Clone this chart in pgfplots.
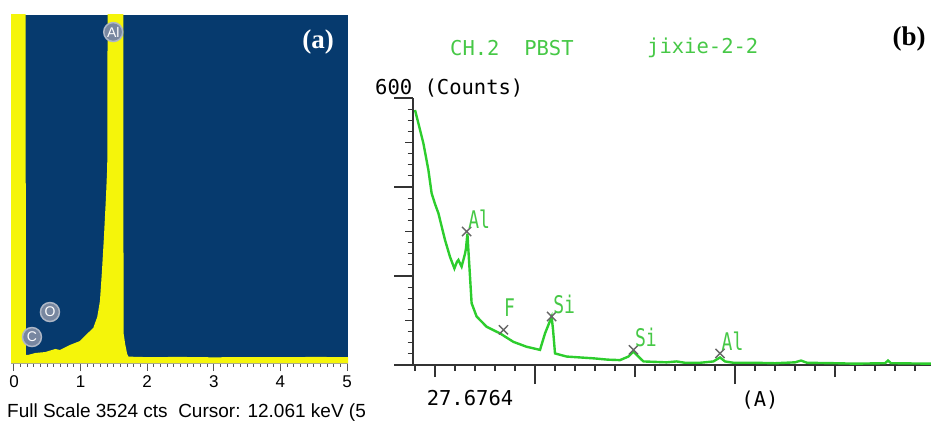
\documentclass[border=0pt]{standalone}
\usepackage{fontspec}
\setmainfont{Liberation Sans}
\newfontfamily\monofont{DejaVu Sans Mono}
\newfontfamily\seriffont{Liberation Serif}
\usepackage{pgfplots}
\pgfplotsset{compat=1.18}
\definecolor{edsblue}{RGB}{6,58,110}
\definecolor{edsyellow}{RGB}{245,245,10}
\definecolor{badge}{RGB}{120,135,160}
\definecolor{specgreen}{RGB}{45,205,45}
\definecolor{txtgreen}{RGB}{70,200,70}

\begin{document}
\begin{tikzpicture}[x=1bp,y=1bp]
\useasboundingbox (0,0) rectangle (931,428);

% ---------- (a) EDS spectrum ----------
\begin{axis}[
    at={(11bp,65bp)}, anchor=south west,
    scale only axis, width=337bp, height=348bp,
    xmin=-0.045, xmax=5.015, ymin=-30, ymax=3520,
    axis x line=bottom, axis y line=none,
    x axis line style={-, draw=gray!75, line width=2.5bp},
    axis background/.style={fill=edsblue},
    xtick={0,1,2,3,4,5}, minor x tick num=9,
    tick align=outside,
    major tick length=8bp, minor tick length=3.5bp,
    tick style={gray!70!black, line width=1bp},
    /pgf/number format/assume math mode=true,
    xticklabel style={font=\fontsize{17bp}{17bp}\selectfont, yshift=-1bp},
    clip=true,
]
\addplot[fill=edsyellow, draw=none] coordinates {
    (-0.045,-30) (-0.045,5000) (0.17,5000) (0.18,52) (0.21,52) (0.32,72)
    (0.47,82) (0.62,113) (0.69,103) (0.84,154) (0.99,194) (1.11,276)
    (1.19,327) (1.25,440) (1.29,600) (1.32,900) (1.35,1250) (1.38,1650)
    (1.40,1970) (1.41,5000) (1.64,5000) (1.645,276) (1.67,160) (1.70,60)
    (1.72,35) (2.0,30) (2.5,32) (3.0,28) (3.5,31) (4.0,29) (4.5,32)
    (5.015,30) (5.015,-30)
};
\addplot[only marks, mark=*, mark size=9.5bp,
    mark options={fill=badge, draw=badge!60!white, line width=1.5bp},
    nodes near coords, point meta=explicit symbolic,
    every node near coord/.append style={anchor=center, text=white,
        font=\fontsize{14bp}{14bp}\selectfont, inner sep=0pt}]
    coordinates {(1.49,3346) [Al] (0.54,490) [O] (0.27,235) [C]};
\end{axis}
\node[text=white, font=\seriffont\bfseries\fontsize{27bp}{27bp}\selectfont]
    at (318,386) {(a)};
\node[anchor=west, font=\fontsize{19bp}{19bp}\selectfont, inner sep=0pt]
    at (7,15) {Full Scale 3524 cts\ \ Cursor: 12.061 keV (5};

% ---------- (b) WDS spectrum ----------
\begin{axis}[
    at={(413bp,63bp)}, anchor=south west,
    scale only axis, width=518bp, height=267bp,
    xmin=-0.1, xmax=25.8, ymin=0, ymax=600,
    axis lines*=left,
    axis line style={-, draw=black!80, line width=1.8bp},
    tick align=outside,
    xtick={6,16}, minor xtick={0,1,...,25},
    extra x ticks={1,11,21}, extra x tick labels={},
    ytick={0,200,400,600}, minor ytick={0,25,...,600},
    extra y ticks={100,300,500}, extra y tick labels={},
    xticklabels={}, yticklabels={},
    major tick length=19bp, minor tick length=5.5bp,
    extra x tick style={major tick length=12bp},
    extra y tick style={major tick length=8bp},
    tick style={black!80, line width=1.2bp},
    clip=false,
]
\addplot[specgreen, line width=2.4bp] coordinates {
    (0,573) (0.17,543) (0.42,498) (0.67,438) (0.83,386) (1.0,362) (1.17,341)
    (1.5,281) (1.75,243) (1.97,217) (2.1,232) (2.17,236) (2.33,221) (2.5,250)
    (2.55,262) (2.62,295) (2.68,250) (2.72,221) (2.83,139) (3.08,109)
    (3.58,86) (4.25,71) (4.92,52) (5.58,41) (6.25,34) (6.5,71) (6.83,108)
    (6.9,80) (7.0,26) (7.58,19) (8.92,15) (9.65,12) (10.25,11) (10.67,19)
    (10.92,30) (11.17,19) (11.42,8) (12.58,6) (13.08,8) (13.5,5) (14.25,5)
    (14.92,8) (15.25,17) (15.5,8) (15.92,5) (17,5) (18,4) (19,6) (19.3,10)
    (19.6,5) (21,4) (22,3) (23.5,4) (23.65,10) (23.8,4) (25.8,3)
};
\addplot[only marks, mark=x, mark size=6.5bp,
    mark options={black!60, line width=1.4bp},
    nodes near coords={\scalebox{1}[1.35]{\pgfplotspointmeta}},
    point meta=explicit symbolic,
    every node near coord/.append style={anchor=south west, text=txtgreen,
        font=\monofont\fontsize{18bp}{18bp}\selectfont, inner sep=0pt,
        xshift=1bp, yshift=2bp}]
    coordinates {(2.58,300) [Al] (6.83,109) [Si] (10.92,34) [Si] (15.25,26) [Al]};
\addplot[only marks, mark=x, mark size=6.5bp,
    mark options={black!60, line width=1.4bp},
    nodes near coords={\scalebox{1}[1.35]{\pgfplotspointmeta}},
    point meta=explicit symbolic,
    every node near coord/.append style={anchor=south west, text=txtgreen,
        font=\monofont\fontsize{18bp}{18bp}\selectfont, inner sep=0pt,
        xshift=0bp, yshift=13bp}]
    coordinates {(4.42,79) [F]};
\end{axis}
\node[anchor=west, text=txtgreen, font=\monofont\fontsize{20.5bp}{20.5bp}\selectfont, inner sep=0pt]
    at (450,380) {CH.2\ \ PBST};
\node[anchor=west, text=txtgreen, font=\monofont\fontsize{20.5bp}{20.5bp}\selectfont, inner sep=0pt]
    at (647,380) {jixie-2-2};
\node[anchor=west, font=\monofont\fontsize{20.5bp}{20.5bp}\selectfont, inner sep=0pt]
    at (375,340) {600 (Counts)};
\node[font=\monofont\fontsize{20.5bp}{20.5bp}\selectfont, inner sep=0pt]
    at (470,30) {27.6764};
\node[font=\monofont\fontsize{20.5bp}{20.5bp}\selectfont, inner sep=0pt]
    at (760,28) {(A)};
\node[font=\seriffont\bfseries\fontsize{27bp}{27bp}\selectfont, inner sep=0pt]
    at (909,389) {(b)};
\end{tikzpicture}
\end{document}
